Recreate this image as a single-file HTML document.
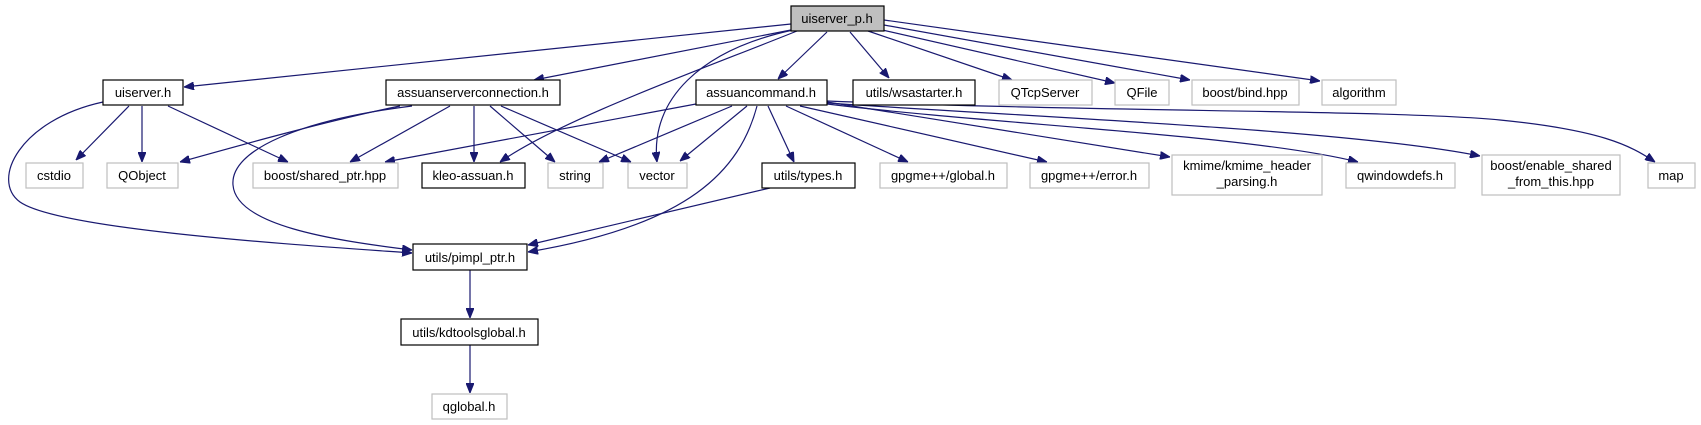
<!DOCTYPE html>
<html><head><meta charset="utf-8"><style>
html,body{margin:0;padding:0;background:#fff;}
svg{display:block;}
text{font-family:"Liberation Sans",Arial,sans-serif;font-size:13px;fill:#000;text-anchor:middle;}
.b{fill:#fff;stroke:#000;stroke-width:1.2;}
.g{fill:#fff;stroke:#bfbfbf;stroke-width:1.2;}
.e{fill:none;stroke:#191970;stroke-width:1.2;}
</style></head><body>
<svg width="1701" height="425" viewBox="0 0 1701 425" xmlns="http://www.w3.org/2000/svg">
<defs>
<marker id="a" viewBox="0 0 10 8" refX="10" refY="4" markerWidth="10" markerHeight="8" markerUnits="userSpaceOnUse" orient="auto">
<path d="M0,0 L10,4 L0,8 z" fill="#191970" stroke="#191970"/>
</marker>
</defs>
<g class="e" marker-end="url(#a)">
<!-- from uiserver_p.h -->
<path d="M791,24 L184,87"/>
<path d="M791,30 L534,80"/>
<path d="M797,31 C700,70 560,120 500,162"/>
<path d="M793,30 C700,50 650,100 657,162"/>
<path d="M827,32 L778,79"/>
<path d="M850,32 L889,78"/>
<path d="M868,31 L1012,80"/>
<path d="M878,29 L1115,83"/>
<path d="M884,25 L1190,80"/>
<path d="M884,20 L1320,81"/>
<!-- from uiserver.h -->
<path d="M103,102 C20,120 -10,180 20,202 C60,230 300,245 412,253"/>
<path d="M129,106 L76,160"/>
<path d="M142,106 L142,162"/>
<path d="M168,106 L288,162"/>
<!-- from assuanserverconnection.h -->
<path d="M400,106 C330,120 230,148 180,162"/>
<path d="M412,106 C300,120 230,150 233,185 C236,225 330,240 412,250"/>
<path d="M450,106 L350,162"/>
<path d="M474,106 L474,162"/>
<path d="M490,106 L555,162"/>
<path d="M501,106 L631,162"/>
<!-- from assuancommand.h -->
<path d="M696,104 L385,162"/>
<path d="M732,106 L599,162"/>
<path d="M747,106 L680,161"/>
<path d="M757,106 C740,170 690,225 528,252"/>
<path d="M768,106 L794,162"/>
<path d="M786,106 L908,162"/>
<path d="M800,106 L1047,162"/>
<path d="M827,102 L1170,157"/>
<path d="M827,104 C1000,125 1250,135 1358,162"/>
<path d="M827,103 C1050,118 1350,130 1480,156"/>
<path d="M827,101 C1100,112 1400,110 1500,120 C1600,130 1630,145 1655,162"/>
<!-- lower -->
<path d="M770,188 L528,245"/>
<path d="M470,270 L470,318"/>
<path d="M470,345 L470,393"/>
</g>
<!-- nodes -->
<rect x="791" y="6" width="93" height="25" fill="#bfbfbf" stroke="#000" stroke-width="1.2"/>
<text x="837" y="23">uiserver_p.h</text>

<rect class="b" x="103" y="80" width="80" height="25"/><text x="143" y="97">uiserver.h</text>
<rect class="b" x="386" y="80" width="174" height="25"/><text x="473" y="97">assuanserverconnection.h</text>
<rect class="b" x="696" y="80" width="131" height="25"/><text x="761" y="97">assuancommand.h</text>
<rect class="b" x="853" y="80" width="122" height="25"/><text x="914" y="97">utils/wsastarter.h</text>
<rect class="g" x="999" y="80" width="93" height="25"/><text x="1045" y="97">QTcpServer</text>
<rect class="g" x="1115" y="80" width="54" height="25"/><text x="1142" y="97">QFile</text>
<rect class="g" x="1192" y="80" width="107" height="25"/><text x="1245" y="97">boost/bind.hpp</text>
<rect class="g" x="1322" y="80" width="74" height="25"/><text x="1359" y="97">algorithm</text>

<rect class="g" x="26" y="163" width="57" height="25"/><text x="54" y="180">cstdio</text>
<rect class="g" x="107" y="163" width="71" height="25"/><text x="142" y="180">QObject</text>
<rect class="g" x="253" y="163" width="145" height="25"/><text x="325" y="180">boost/shared_ptr.hpp</text>
<rect class="b" x="422" y="163" width="103" height="25"/><text x="473" y="180">kleo-assuan.h</text>
<rect class="g" x="548" y="163" width="55" height="25"/><text x="575" y="180">string</text>
<rect class="g" x="628" y="163" width="59" height="25"/><text x="657" y="180">vector</text>
<rect class="b" x="762" y="163" width="93" height="25"/><text x="808" y="180">utils/types.h</text>
<rect class="g" x="880" y="163" width="127" height="25"/><text x="943" y="180">gpgme++/global.h</text>
<rect class="g" x="1030" y="163" width="119" height="25"/><text x="1089" y="180">gpgme++/error.h</text>
<rect class="g" x="1172" y="155" width="150" height="40"/><text x="1247" y="170">kmime/kmime_header</text><text x="1247" y="186">_parsing.h</text>
<rect class="g" x="1346" y="163" width="109" height="25"/><text x="1400" y="180">qwindowdefs.h</text>
<rect class="g" x="1482" y="155" width="138" height="40"/><text x="1551" y="170">boost/enable_shared</text><text x="1551" y="186">_from_this.hpp</text>
<rect class="g" x="1648" y="163" width="47" height="25"/><text x="1671" y="180">map</text>

<rect class="b" x="413" y="244" width="114" height="26"/><text x="470" y="262">utils/pimpl_ptr.h</text>
<rect class="b" x="401" y="319" width="137" height="26"/><text x="469" y="337">utils/kdtoolsglobal.h</text>
<rect class="g" x="432" y="394" width="75" height="25"/><text x="469" y="411">qglobal.h</text>
</svg>
</body></html>
